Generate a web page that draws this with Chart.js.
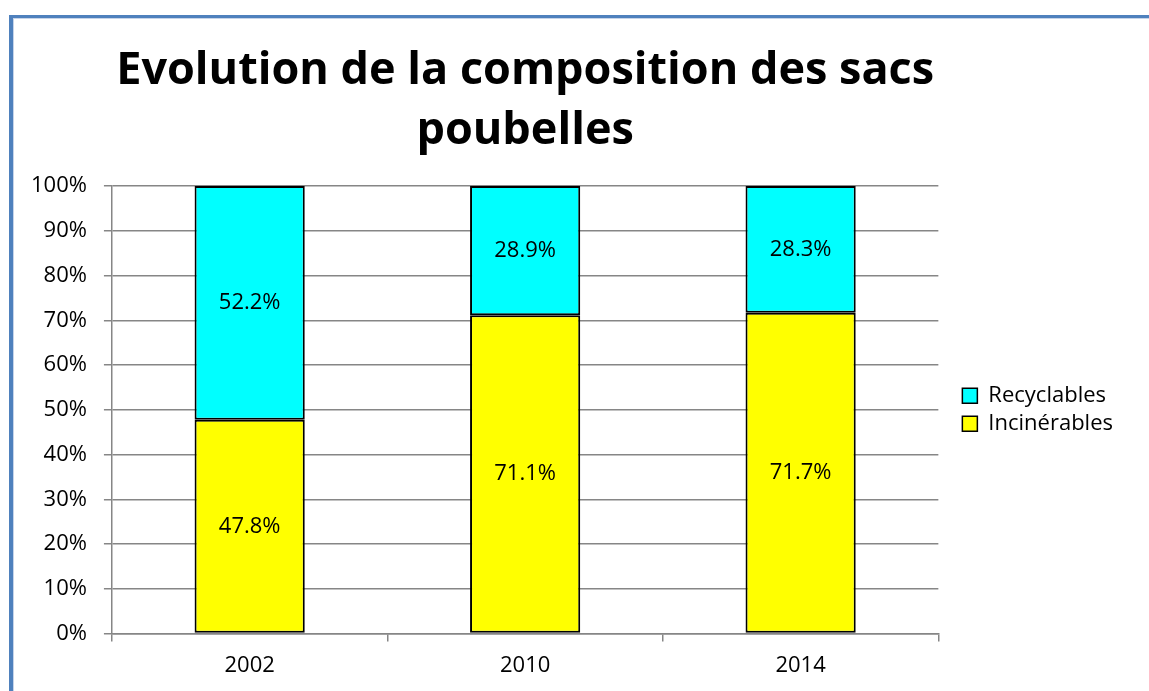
<!DOCTYPE html>
<html>
<head>
<meta charset="utf-8">
<script src="https://cdn.jsdelivr.net/npm/chart.js@4"></script>
<style>
  html, body { margin: 0; padding: 0; background: #fff; overflow: hidden; }
  #wrap { position: relative; width: 1149px; height: 691px; }
  #frame {
    position: absolute; left: 9px; top: 15px; width: 1200px; height: 720px;
    border-left: 4px solid #4f81bd; border-top: 3px solid #4f81bd;
    box-shadow: inset 1px 1px 0 #c6d4e9;
  }
  canvas { position: absolute; left: 0; top: 0; }
</style>
</head>
<body>
<div id="wrap">
  <div id="frame"></div>
  <canvas id="chart" width="1149" height="691"></canvas>
</div>
<script>
const years = ['2002', '2010', '2014'];
const incinerables = [47.8, 71.1, 71.7];
const recyclables = [52.2, 28.9, 28.3];
const yTicks = [0, 10, 20, 30, 40, 50, 60, 70, 80, 90, 100];

const FONT = '"Open Sans", sans-serif';

// draws the value in the middle of each bar segment
const valueLabels = {
    id: 'valueLabels',
    afterDatasetsDraw(chart) {
        const ctx = chart.ctx;
        ctx.save();
        ctx.font = '22px ' + FONT;
        ctx.fillStyle = '#000';
        ctx.textAlign = 'center';
        ctx.textBaseline = 'middle';
        chart.data.datasets.forEach((ds, i) => {
            chart.getDatasetMeta(i).data.forEach((bar, j) => {
                const { x, y, base } = bar.getProps(['x', 'y', 'base'], true);
                ctx.fillText(ds.data[j].toFixed(1) + '%', x, (y + base) / 2);
            });
        });
        ctx.restore();
    }
};

new Chart(document.getElementById('chart'), {
    type: 'bar',
    data: {
        labels: years,
        datasets: [
            {
                label: 'Incinérables',
                data: incinerables,
                backgroundColor: '#ffff00',
                borderColor: '#000',
                borderWidth: 2,
                borderSkipped: false
            },
            {
                label: 'Recyclables',
                data: recyclables,
                backgroundColor: '#00ffff',
                borderColor: '#000',
                borderWidth: 2,
                borderSkipped: false
            }
        ]
    },
    options: {
        responsive: false,
        animation: false,
        layout: { padding: { left: 14, right: 26, top: 41, bottom: 1 } },
        datasets: { bar: { barPercentage: 0.4, categoryPercentage: 1 } },
        scales: {
            x: {
                stacked: true,
                grid: { offset: true, drawOnChartArea: false, drawTicks: true, tickLength: 8, color: '#868686', lineWidth: 1.5 },
                border: { color: '#868686', width: 1.5 },
                ticks: { color: '#000', font: { family: FONT, size: 22 }, padding: 11 }
            },
            y: {
                stacked: true,
                min: 0,
                max: 100,
                afterBuildTicks: axis => { axis.ticks = yTicks.map(v => ({ value: v })); },
                grid: { color: '#868686', tickLength: 8, lineWidth: 1.5 },
                border: { color: '#868686', width: 1.5 },
                ticks: { color: '#000', font: { family: FONT, size: 22 }, padding: 17, callback: v => v + '%' }
            },
            // empty spacer so the legend sits a little away from the plot
            gap: {
                type: 'linear',
                position: 'right',
                grid: { display: false, drawTicks: false },
                border: { display: false },
                ticks: { display: false },
                afterFit: axis => { axis.width = 18; }
            }
        },
        plugins: {
            title: {
                display: true,
                fullSize: false,
                text: ['Evolution de la composition des sacs', 'poubelles'],
                color: '#000',
                font: { family: FONT, size: 45, weight: 'bold', lineHeight: 60 / 45 },
                padding: { top: 0, bottom: 25 }
            },
            legend: {
                position: 'right',
                fullSize: false,
                reverse: true,
                labels: {
                    color: '#000',
                    font: { family: FONT, size: 22 },
                    boxWidth: 15,
                    boxHeight: 15,
                    padding: 6,
                    generateLabels: chart => Chart.defaults.plugins.legend.labels.generateLabels(chart).map(l => ({ ...l, lineWidth: 1.5, strokeStyle: '#000' }))
                }
            },
            tooltip: { enabled: false }
        }
    },
    plugins: [valueLabels]
});
</script>
</body>
</html>
